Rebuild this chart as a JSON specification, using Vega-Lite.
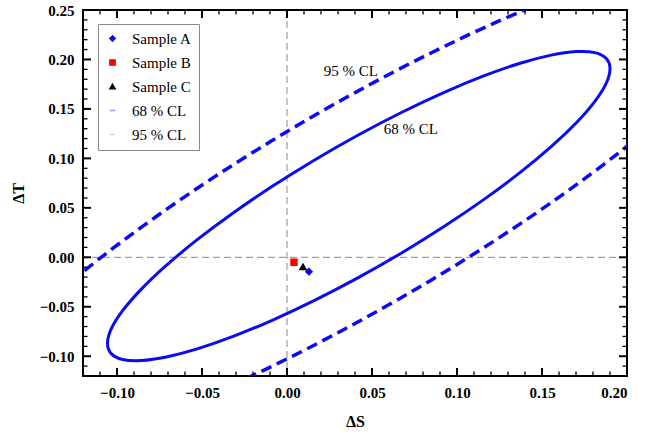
{
  "$schema": "https://vega.github.io/schema/vega-lite/v6.json",
  "width": 544,
  "height": 366,
  "autosize": {"type": "none"},
  "padding": {"left": 83, "top": 10, "right": 27, "bottom": 66},
  "background": "white",
  "config": {
    "view": {"stroke": "black", "strokeWidth": 2},
    "axis": {
      "domain": false, "grid": false, "ticks": false,
      "labelFont": "Liberation Serif", "labelFontWeight": "bold", "labelFontSize": 15, "labelColor": "black",
      "titleFont": "Liberation Serif", "titleFontWeight": "bold", "titleFontSize": 16, "titleColor": "black"
    },
    "legend": {"symbolStrokeWidth": 1.3}
  },
  "datasets": {
    "zero": [{"v": 0}],
    "xmaj": [{"v": -0.1}, {"v": -0.05}, {"v": 0}, {"v": 0.05}, {"v": 0.1}, {"v": 0.15}],
    "xmin": [{"v": -0.11}, {"v": -0.09}, {"v": -0.08}, {"v": -0.07}, {"v": -0.06}, {"v": -0.04}, {"v": -0.03}, {"v": -0.02}, {"v": -0.01}, {"v": 0.01}, {"v": 0.02}, {"v": 0.03}, {"v": 0.04}, {"v": 0.06}, {"v": 0.07}, {"v": 0.08}, {"v": 0.09}, {"v": 0.11}, {"v": 0.12}, {"v": 0.13}, {"v": 0.14}, {"v": 0.16}, {"v": 0.17}, {"v": 0.18}, {"v": 0.19}],
    "ymaj": [{"v": -0.1}, {"v": -0.05}, {"v": 0}, {"v": 0.05}, {"v": 0.1}, {"v": 0.15}, {"v": 0.2}],
    "ymin": [{"v": -0.11}, {"v": -0.09}, {"v": -0.08}, {"v": -0.07}, {"v": -0.06}, {"v": -0.04}, {"v": -0.03}, {"v": -0.02}, {"v": -0.01}, {"v": 0.01}, {"v": 0.02}, {"v": 0.03}, {"v": 0.04}, {"v": 0.06}, {"v": 0.07}, {"v": 0.08}, {"v": 0.09}, {"v": 0.11}, {"v": 0.12}, {"v": 0.13}, {"v": 0.14}, {"v": 0.16}, {"v": 0.17}, {"v": 0.18}, {"v": 0.19}, {"v": 0.21}, {"v": 0.22}, {"v": 0.23}, {"v": 0.24}],
    "pts": [
      {"series": "Sample A", "dS": 0.0129, "dT": -0.0145},
      {"series": "Sample B", "dS": 0.0041, "dT": -0.0050},
      {"series": "Sample C", "dS": 0.0094, "dT": -0.0098}
    ],
    "labels": [
      {"dS": 0.0376, "dT": 0.1879, "txt": "95 % CL"},
      {"dS": 0.0729, "dT": 0.1293, "txt": "68 % CL"}
    ],
    "e68": [
      {"t": 0, "dS": 0.1900, "dT": 0.1906}, {"t": 10, "dS": 0.1878, "dT": 0.2010},
      {"t": 20, "dS": 0.1811, "dT": 0.2069}, {"t": 30, "dS": 0.1702, "dT": 0.2080},
      {"t": 40, "dS": 0.1554, "dT": 0.2044}, {"t": 50, "dS": 0.1372, "dT": 0.1962},
      {"t": 60, "dS": 0.1161, "dT": 0.1836}, {"t": 70, "dS": 0.0928, "dT": 0.1670},
      {"t": 80, "dS": 0.0679, "dT": 0.1469}, {"t": 90, "dS": 0.0422, "dT": 0.1239},
      {"t": 100, "dS": 0.0165, "dT": 0.0987}, {"t": 110, "dS": -0.0084, "dT": 0.0720},
      {"t": 120, "dS": -0.0317, "dT": 0.0448}, {"t": 130, "dS": -0.0528, "dT": 0.0178},
      {"t": 140, "dS": -0.0710, "dT": -0.0082}, {"t": 150, "dS": -0.0858, "dT": -0.0324},
      {"t": 160, "dS": -0.0967, "dT": -0.0540}, {"t": 170, "dS": -0.1034, "dT": -0.0724},
      {"t": 180, "dS": -0.1056, "dT": -0.0870}, {"t": 190, "dS": -0.1034, "dT": -0.0974},
      {"t": 200, "dS": -0.0967, "dT": -0.1033}, {"t": 210, "dS": -0.0858, "dT": -0.1044},
      {"t": 220, "dS": -0.0710, "dT": -0.1008}, {"t": 230, "dS": -0.0528, "dT": -0.0926},
      {"t": 240, "dS": -0.0317, "dT": -0.0800}, {"t": 250, "dS": -0.0084, "dT": -0.0634},
      {"t": 260, "dS": 0.0165, "dT": -0.0433}, {"t": 270, "dS": 0.0422, "dT": -0.0203},
      {"t": 280, "dS": 0.0679, "dT": 0.0049}, {"t": 290, "dS": 0.0928, "dT": 0.0316},
      {"t": 300, "dS": 0.1161, "dT": 0.0588}, {"t": 310, "dS": 0.1372, "dT": 0.0858},
      {"t": 320, "dS": 0.1554, "dT": 0.1118}, {"t": 330, "dS": 0.1702, "dT": 0.1360},
      {"t": 340, "dS": 0.1811, "dT": 0.1576}, {"t": 350, "dS": 0.1878, "dT": 0.1760}
    ],
    "e95": [
      {"t": 0, "dS": 0.2816, "dT": 0.2767}, {"t": 10, "dS": 0.2780, "dT": 0.2935},
      {"t": 20, "dS": 0.2672, "dT": 0.3030}, {"t": 30, "dS": 0.2496, "dT": 0.3049},
      {"t": 40, "dS": 0.2256, "dT": 0.2991}, {"t": 50, "dS": 0.1961, "dT": 0.2857},
      {"t": 60, "dS": 0.1619, "dT": 0.2653}, {"t": 70, "dS": 0.1241, "dT": 0.2384},
      {"t": 80, "dS": 0.0838, "dT": 0.2058}, {"t": 90, "dS": 0.0422, "dT": 0.1685},
      {"t": 100, "dS": 0.0006, "dT": 0.1277}, {"t": 110, "dS": -0.0397, "dT": 0.0846},
      {"t": 120, "dS": -0.0775, "dT": 0.0405}, {"t": 130, "dS": -0.1117, "dT": -0.0033},
      {"t": 140, "dS": -0.1412, "dT": -0.0454}, {"t": 150, "dS": -0.1652, "dT": -0.0846},
      {"t": 160, "dS": -0.1828, "dT": -0.1196}, {"t": 170, "dS": -0.1936, "dT": -0.1494},
      {"t": 180, "dS": -0.1972, "dT": -0.1731}, {"t": 190, "dS": -0.1936, "dT": -0.1899},
      {"t": 200, "dS": -0.1828, "dT": -0.1994}, {"t": 210, "dS": -0.1652, "dT": -0.2013},
      {"t": 220, "dS": -0.1412, "dT": -0.1955}, {"t": 230, "dS": -0.1117, "dT": -0.1821},
      {"t": 240, "dS": -0.0775, "dT": -0.1617}, {"t": 250, "dS": -0.0397, "dT": -0.1348},
      {"t": 260, "dS": 0.0006, "dT": -0.1022}, {"t": 270, "dS": 0.0422, "dT": -0.0649},
      {"t": 280, "dS": 0.0838, "dT": -0.0241}, {"t": 290, "dS": 0.1241, "dT": 0.0190},
      {"t": 300, "dS": 0.1619, "dT": 0.0631}, {"t": 310, "dS": 0.1961, "dT": 0.1069},
      {"t": 320, "dS": 0.2256, "dT": 0.1490}, {"t": 330, "dS": 0.2496, "dT": 0.1882},
      {"t": 340, "dS": 0.2672, "dT": 0.2232}, {"t": 350, "dS": 0.2780, "dT": 0.2531}
    ]
  },
  "resolve": {"axis": {"x": "independent", "y": "independent"}},
  "layer": [
    {
      "data": {"name": "zero"},
      "mark": {"type": "rule", "color": "#8a8a8a", "strokeDash": [7, 4], "strokeWidth": 1},
      "encoding": {
        "x": {
          "field": "v", "type": "quantitative",
          "scale": {"domain": [-0.12, 0.2], "nice": false, "zero": false},
          "axis": {"orient": "bottom", "values": [-0.1, -0.05, 0, 0.05, 0.1, 0.15, 0.2], "format": ".2f",
                   "labelPadding": 9, "title": "ΔS", "titlePadding": 13}
        }
      }
    },
    {
      "data": {"name": "zero"},
      "mark": {"type": "rule", "color": "#8a8a8a", "strokeDash": [7, 4], "strokeWidth": 1},
      "encoding": {
        "y": {
          "field": "v", "type": "quantitative",
          "scale": {"domain": [-0.12, 0.25], "nice": false, "zero": false},
          "axis": {"orient": "left", "values": [-0.1, -0.05, 0, 0.05, 0.1, 0.15, 0.2, 0.25], "format": ".2f",
                   "labelPadding": 9, "title": "ΔT", "titlePadding": 13}
        }
      }
    },
    {
      "data": {"name": "e68"},
      "mark": {"type": "line", "interpolate": "cardinal-closed", "clip": true, "stroke": "#0a0af5", "strokeWidth": 3},
      "encoding": {
        "x": {"field": "dS", "type": "quantitative", "scale": {"domain": [-0.12, 0.2], "nice": false, "zero": false}, "axis": null},
        "y": {"field": "dT", "type": "quantitative", "scale": {"domain": [-0.12, 0.25], "nice": false, "zero": false}, "axis": null},
        "order": {"field": "t", "type": "quantitative"}
      }
    },
    {
      "data": {"name": "e95"},
      "mark": {"type": "line", "interpolate": "cardinal-closed", "clip": true, "stroke": "#0a0af5", "strokeWidth": 3.5, "strokeDash": [11, 6]},
      "encoding": {
        "x": {"field": "dS", "type": "quantitative", "scale": {"domain": [-0.12, 0.2], "nice": false, "zero": false}, "axis": null},
        "y": {"field": "dT", "type": "quantitative", "scale": {"domain": [-0.12, 0.25], "nice": false, "zero": false}, "axis": null},
        "order": {"field": "t", "type": "quantitative"}
      }
    },
    {
      "data": {"name": "pts"},
      "mark": {"type": "point", "filled": true, "opacity": 1},
      "encoding": {
        "x": {"field": "dS", "type": "quantitative", "scale": {"domain": [-0.12, 0.2], "nice": false, "zero": false}, "axis": null},
        "y": {"field": "dT", "type": "quantitative", "scale": {"domain": [-0.12, 0.25], "nice": false, "zero": false}, "axis": null},
        "fill": {
          "field": "series", "type": "nominal",
          "scale": {"domain": ["Sample A", "Sample B", "Sample C", "68 % CL", "95 % CL"],
                    "range": ["#0a0af5", "#ff0000", "#000000", "#9c9cff", "#c8c8ff"]},
          "legend": {
            "title": null, "orient": "none", "legendX": 15, "legendY": 14,
            "padding": 7, "strokeColor": "#8a8a8a", "fillColor": "white",
            "labelFont": "Liberation Serif", "labelFontSize": 15, "labelColor": "black",
            "rowPadding": 8, "labelOffset": 12
          }
        },
        "stroke": {
          "field": "series", "type": "nominal",
          "scale": {"domain": ["Sample A", "Sample B", "Sample C", "68 % CL", "95 % CL"],
                    "range": ["#0a0af5", "#ff0000", "#000000", "#9c9cff", "#c8c8ff"]}
        },
        "shape": {
          "field": "series", "type": "nominal",
          "scale": {"domain": ["Sample A", "Sample B", "Sample C", "68 % CL", "95 % CL"],
                    "range": ["diamond", "square", "triangle-up", "stroke", "stroke"]}
        },
        "size": {
          "field": "series", "type": "ordinal",
          "scale": {"domain": ["Sample A", "Sample B", "Sample C", "68 % CL", "95 % CL"],
                    "range": [30, 28, 26, 360, 360]}
        },
        "strokeDash": {
          "field": "series", "type": "nominal",
          "scale": {"domain": ["Sample A", "Sample B", "Sample C", "68 % CL", "95 % CL"],
                    "range": [[1, 0], [1, 0], [1, 0], [1, 0], [5, 4]]}
        }
      }
    },
    {
      "data": {"name": "labels"},
      "mark": {"type": "text", "font": "Liberation Serif", "fontSize": 15, "color": "black", "align": "center", "baseline": "middle"},
      "encoding": {
        "x": {"field": "dS", "type": "quantitative", "scale": {"domain": [-0.12, 0.2], "nice": false, "zero": false}, "axis": null},
        "y": {"field": "dT", "type": "quantitative", "scale": {"domain": [-0.12, 0.25], "nice": false, "zero": false}, "axis": null},
        "text": {"field": "txt"}
      }
    },
    {
      "data": {"name": "xmaj"},
      "mark": {"type": "rule", "color": "black", "strokeWidth": 2},
      "encoding": {
        "x": {"field": "v", "type": "quantitative", "scale": {"domain": [-0.12, 0.2], "nice": false, "zero": false}, "axis": null},
        "y": {"datum": -0.12, "type": "quantitative", "scale": {"domain": [-0.12, 0.25], "nice": false, "zero": false}, "axis": null},
        "y2": {"datum": -0.1119}
      }
    },
    {
      "data": {"name": "xmaj"},
      "mark": {"type": "rule", "color": "black", "strokeWidth": 2},
      "encoding": {
        "x": {"field": "v", "type": "quantitative", "scale": {"domain": [-0.12, 0.2], "nice": false, "zero": false}, "axis": null},
        "y": {"datum": 0.25, "type": "quantitative", "scale": {"domain": [-0.12, 0.25], "nice": false, "zero": false}, "axis": null},
        "y2": {"datum": 0.2419}
      }
    },
    {
      "data": {"name": "xmin"},
      "mark": {"type": "rule", "color": "black", "strokeWidth": 1.3},
      "encoding": {
        "x": {"field": "v", "type": "quantitative", "scale": {"domain": [-0.12, 0.2], "nice": false, "zero": false}, "axis": null},
        "y": {"datum": -0.12, "type": "quantitative", "scale": {"domain": [-0.12, 0.25], "nice": false, "zero": false}, "axis": null},
        "y2": {"datum": -0.11545}
      }
    },
    {
      "data": {"name": "xmin"},
      "mark": {"type": "rule", "color": "black", "strokeWidth": 1.3},
      "encoding": {
        "x": {"field": "v", "type": "quantitative", "scale": {"domain": [-0.12, 0.2], "nice": false, "zero": false}, "axis": null},
        "y": {"datum": 0.25, "type": "quantitative", "scale": {"domain": [-0.12, 0.25], "nice": false, "zero": false}, "axis": null},
        "y2": {"datum": 0.24545}
      }
    },
    {
      "data": {"name": "ymaj"},
      "mark": {"type": "rule", "color": "black", "strokeWidth": 2},
      "encoding": {
        "y": {"field": "v", "type": "quantitative", "scale": {"domain": [-0.12, 0.25], "nice": false, "zero": false}, "axis": null},
        "x": {"datum": -0.12, "type": "quantitative", "scale": {"domain": [-0.12, 0.2], "nice": false, "zero": false}, "axis": null},
        "x2": {"datum": -0.1153}
      }
    },
    {
      "data": {"name": "ymaj"},
      "mark": {"type": "rule", "color": "black", "strokeWidth": 2},
      "encoding": {
        "y": {"field": "v", "type": "quantitative", "scale": {"domain": [-0.12, 0.25], "nice": false, "zero": false}, "axis": null},
        "x": {"datum": 0.2, "type": "quantitative", "scale": {"domain": [-0.12, 0.2], "nice": false, "zero": false}, "axis": null},
        "x2": {"datum": 0.1953}
      }
    },
    {
      "data": {"name": "ymin"},
      "mark": {"type": "rule", "color": "black", "strokeWidth": 1.3},
      "encoding": {
        "y": {"field": "v", "type": "quantitative", "scale": {"domain": [-0.12, 0.25], "nice": false, "zero": false}, "axis": null},
        "x": {"datum": -0.12, "type": "quantitative", "scale": {"domain": [-0.12, 0.2], "nice": false, "zero": false}, "axis": null},
        "x2": {"datum": -0.11735}
      }
    },
    {
      "data": {"name": "ymin"},
      "mark": {"type": "rule", "color": "black", "strokeWidth": 1.3},
      "encoding": {
        "y": {"field": "v", "type": "quantitative", "scale": {"domain": [-0.12, 0.25], "nice": false, "zero": false}, "axis": null},
        "x": {"datum": 0.2, "type": "quantitative", "scale": {"domain": [-0.12, 0.2], "nice": false, "zero": false}, "axis": null},
        "x2": {"datum": 0.19735}
      }
    }
  ]
}
